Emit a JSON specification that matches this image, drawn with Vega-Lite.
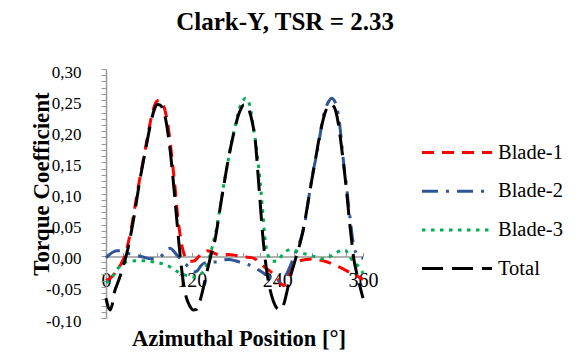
{
  "$schema": "https://vega.github.io/schema/vega-lite/v6.json",
  "width": 257,
  "height": 249,
  "autosize": {"type": "none"},
  "padding": {"left": 106, "top": 69, "right": 216, "bottom": 34},
  "background": "white",
  "config": {
    "view": {"stroke": null},
    "font": "Liberation Serif",
    "axis": {"labelFont": "Liberation Serif", "titleFont": "Liberation Serif"},
    "legend": {"labelFont": "Liberation Serif", "titleFont": "Liberation Serif"},
    "title": {"font": "Liberation Serif"}
  },
  "title": {"text": "Clark-Y, TSR = 2.33", "font": "Liberation Serif", "fontSize": 25, "fontWeight": "bold", "color": "#000000", "anchor": "middle", "frame": "group", "dx": 50.5, "baseline": "alphabetic", "offset": 8},
  "data": {"values": [
    {"a":0,"s":"Blade-1","v":-0.040},{"a":6,"s":"Blade-1","v":-0.036},{"a":12,"s":"Blade-1","v":-0.029},{"a":17,"s":"Blade-1","v":-0.021},{"a":22,"s":"Blade-1","v":-0.011},{"a":27,"s":"Blade-1","v":0.002},{"a":31,"s":"Blade-1","v":0.020},{"a":35,"s":"Blade-1","v":0.042},{"a":39,"s":"Blade-1","v":0.068},{"a":43,"s":"Blade-1","v":0.096},{"a":47,"s":"Blade-1","v":0.122},{"a":51,"s":"Blade-1","v":0.146},{"a":55,"s":"Blade-1","v":0.171},{"a":59,"s":"Blade-1","v":0.196},{"a":63,"s":"Blade-1","v":0.220},{"a":67,"s":"Blade-1","v":0.238},{"a":71,"s":"Blade-1","v":0.248},{"a":75,"s":"Blade-1","v":0.250},{"a":79,"s":"Blade-1","v":0.245},{"a":83,"s":"Blade-1","v":0.232},{"a":87,"s":"Blade-1","v":0.208},{"a":90,"s":"Blade-1","v":0.181},{"a":94,"s":"Blade-1","v":0.140},{"a":97,"s":"Blade-1","v":0.106},{"a":100,"s":"Blade-1","v":0.068},{"a":103,"s":"Blade-1","v":0.040},{"a":106,"s":"Blade-1","v":0.018},{"a":109,"s":"Blade-1","v":0.004},{"a":113,"s":"Blade-1","v":-0.005},{"a":118,"s":"Blade-1","v":-0.009},{"a":124,"s":"Blade-1","v":-0.008},{"a":130,"s":"Blade-1","v":-0.001},{"a":136,"s":"Blade-1","v":0.006},{"a":142,"s":"Blade-1","v":0.008},{"a":148,"s":"Blade-1","v":0.006},{"a":156,"s":"Blade-1","v":0.002},{"a":164,"s":"Blade-1","v":0.001},{"a":172,"s":"Blade-1","v":0.002},{"a":180,"s":"Blade-1","v":0.001},{"a":188,"s":"Blade-1","v":-0.001},{"a":196,"s":"Blade-1","v":-0.002},{"a":204,"s":"Blade-1","v":-0.003},{"a":210,"s":"Blade-1","v":-0.006},{"a":216,"s":"Blade-1","v":-0.012},{"a":222,"s":"Blade-1","v":-0.018},{"a":228,"s":"Blade-1","v":-0.023},{"a":234,"s":"Blade-1","v":-0.029},{"a":240,"s":"Blade-1","v":-0.037},{"a":245,"s":"Blade-1","v":-0.045},{"a":249,"s":"Blade-1","v":-0.048},{"a":253,"s":"Blade-1","v":-0.040},{"a":257,"s":"Blade-1","v":-0.027},{"a":262,"s":"Blade-1","v":-0.016},{"a":270,"s":"Blade-1","v":-0.009},{"a":280,"s":"Blade-1","v":-0.006},{"a":290,"s":"Blade-1","v":-0.005},{"a":300,"s":"Blade-1","v":-0.007},{"a":310,"s":"Blade-1","v":-0.010},{"a":320,"s":"Blade-1","v":-0.015},{"a":330,"s":"Blade-1","v":-0.020},{"a":340,"s":"Blade-1","v":-0.026},{"a":348,"s":"Blade-1","v":-0.030},{"a":354,"s":"Blade-1","v":-0.034},{"a":360,"s":"Blade-1","v":-0.038},
    {"a":0,"s":"Blade-2","v":-0.003},{"a":5,"s":"Blade-2","v":0.002},{"a":10,"s":"Blade-2","v":0.006},{"a":16,"s":"Blade-2","v":0.008},{"a":22,"s":"Blade-2","v":0.008},{"a":28,"s":"Blade-2","v":0.005},{"a":36,"s":"Blade-2","v":0.002},{"a":45,"s":"Blade-2","v":0.000},{"a":55,"s":"Blade-2","v":-0.003},{"a":63,"s":"Blade-2","v":-0.005},{"a":70,"s":"Blade-2","v":-0.005},{"a":76,"s":"Blade-2","v":-0.002},{"a":81,"s":"Blade-2","v":0.004},{"a":86,"s":"Blade-2","v":0.011},{"a":90,"s":"Blade-2","v":0.012},{"a":95,"s":"Blade-2","v":0.007},{"a":101,"s":"Blade-2","v":-0.001},{"a":107,"s":"Blade-2","v":-0.008},{"a":113,"s":"Blade-2","v":-0.015},{"a":118,"s":"Blade-2","v":-0.021},{"a":123,"s":"Blade-2","v":-0.026},{"a":128,"s":"Blade-2","v":-0.024},{"a":133,"s":"Blade-2","v":-0.016},{"a":139,"s":"Blade-2","v":-0.011},{"a":146,"s":"Blade-2","v":-0.010},{"a":155,"s":"Blade-2","v":-0.010},{"a":163,"s":"Blade-2","v":-0.007},{"a":172,"s":"Blade-2","v":-0.006},{"a":181,"s":"Blade-2","v":-0.008},{"a":190,"s":"Blade-2","v":-0.011},{"a":199,"s":"Blade-2","v":-0.014},{"a":207,"s":"Blade-2","v":-0.018},{"a":214,"s":"Blade-2","v":-0.023},{"a":221,"s":"Blade-2","v":-0.028},{"a":228,"s":"Blade-2","v":-0.033},{"a":235,"s":"Blade-2","v":-0.038},{"a":241,"s":"Blade-2","v":-0.041},{"a":246,"s":"Blade-2","v":-0.041},{"a":251,"s":"Blade-2","v":-0.034},{"a":256,"s":"Blade-2","v":-0.022},{"a":261,"s":"Blade-2","v":-0.008},{"a":266,"s":"Blade-2","v":0.006},{"a":270,"s":"Blade-2","v":0.018},{"a":274,"s":"Blade-2","v":0.031},{"a":278,"s":"Blade-2","v":0.050},{"a":282,"s":"Blade-2","v":0.078},{"a":286,"s":"Blade-2","v":0.108},{"a":290,"s":"Blade-2","v":0.135},{"a":295,"s":"Blade-2","v":0.162},{"a":300,"s":"Blade-2","v":0.195},{"a":304,"s":"Blade-2","v":0.222},{"a":308,"s":"Blade-2","v":0.238},{"a":312,"s":"Blade-2","v":0.248},{"a":316,"s":"Blade-2","v":0.253},{"a":320,"s":"Blade-2","v":0.249},{"a":324,"s":"Blade-2","v":0.236},{"a":327,"s":"Blade-2","v":0.214},{"a":330,"s":"Blade-2","v":0.182},{"a":333,"s":"Blade-2","v":0.148},{"a":337,"s":"Blade-2","v":0.111},{"a":340,"s":"Blade-2","v":0.078},{"a":342,"s":"Blade-2","v":0.060},{"a":345,"s":"Blade-2","v":0.030},{"a":348,"s":"Blade-2","v":0.012},{"a":352,"s":"Blade-2","v":0.001},{"a":356,"s":"Blade-2","v":-0.003},{"a":360,"s":"Blade-2","v":-0.004},
    {"a":0,"s":"Blade-3","v":-0.043},{"a":5,"s":"Blade-3","v":-0.040},{"a":10,"s":"Blade-3","v":-0.032},{"a":15,"s":"Blade-3","v":-0.023},{"a":20,"s":"Blade-3","v":-0.016},{"a":26,"s":"Blade-3","v":-0.011},{"a":33,"s":"Blade-3","v":-0.009},{"a":42,"s":"Blade-3","v":-0.008},{"a":52,"s":"Blade-3","v":-0.008},{"a":62,"s":"Blade-3","v":-0.009},{"a":72,"s":"Blade-3","v":-0.011},{"a":82,"s":"Blade-3","v":-0.014},{"a":90,"s":"Blade-3","v":-0.018},{"a":98,"s":"Blade-3","v":-0.024},{"a":106,"s":"Blade-3","v":-0.029},{"a":114,"s":"Blade-3","v":-0.032},{"a":122,"s":"Blade-3","v":-0.034},{"a":128,"s":"Blade-3","v":-0.033},{"a":134,"s":"Blade-3","v":-0.028},{"a":139,"s":"Blade-3","v":-0.020},{"a":143,"s":"Blade-3","v":-0.008},{"a":147,"s":"Blade-3","v":0.006},{"a":151,"s":"Blade-3","v":0.025},{"a":155,"s":"Blade-3","v":0.045},{"a":159,"s":"Blade-3","v":0.072},{"a":163,"s":"Blade-3","v":0.100},{"a":167,"s":"Blade-3","v":0.128},{"a":171,"s":"Blade-3","v":0.152},{"a":175,"s":"Blade-3","v":0.177},{"a":179,"s":"Blade-3","v":0.198},{"a":183,"s":"Blade-3","v":0.218},{"a":187,"s":"Blade-3","v":0.237},{"a":191,"s":"Blade-3","v":0.247},{"a":195,"s":"Blade-3","v":0.253},{"a":199,"s":"Blade-3","v":0.250},{"a":203,"s":"Blade-3","v":0.232},{"a":207,"s":"Blade-3","v":0.202},{"a":211,"s":"Blade-3","v":0.171},{"a":214,"s":"Blade-3","v":0.140},{"a":217,"s":"Blade-3","v":0.105},{"a":220,"s":"Blade-3","v":0.065},{"a":222,"s":"Blade-3","v":0.036},{"a":225,"s":"Blade-3","v":0.010},{"a":229,"s":"Blade-3","v":-0.004},{"a":234,"s":"Blade-3","v":-0.009},{"a":239,"s":"Blade-3","v":-0.009},{"a":244,"s":"Blade-3","v":-0.003},{"a":249,"s":"Blade-3","v":0.004},{"a":255,"s":"Blade-3","v":0.009},{"a":261,"s":"Blade-3","v":0.010},{"a":268,"s":"Blade-3","v":0.007},{"a":276,"s":"Blade-3","v":0.004},{"a":285,"s":"Blade-3","v":0.001},{"a":294,"s":"Blade-3","v":-0.002},{"a":302,"s":"Blade-3","v":-0.005},{"a":309,"s":"Blade-3","v":-0.004},{"a":316,"s":"Blade-3","v":0.000},{"a":323,"s":"Blade-3","v":0.005},{"a":330,"s":"Blade-3","v":0.009},{"a":335,"s":"Blade-3","v":0.009},{"a":340,"s":"Blade-3","v":0.002},{"a":346,"s":"Blade-3","v":-0.009},{"a":352,"s":"Blade-3","v":-0.015},{"a":356,"s":"Blade-3","v":-0.020},{"a":360,"s":"Blade-3","v":-0.028},
    {"a":0,"s":"Total","v":-0.068},{"a":3,"s":"Total","v":-0.082},{"a":6,"s":"Total","v":-0.087},{"a":9,"s":"Total","v":-0.077},{"a":12,"s":"Total","v":-0.058},{"a":16,"s":"Total","v":-0.045},{"a":20,"s":"Total","v":-0.032},{"a":24,"s":"Total","v":-0.017},{"a":28,"s":"Total","v":-0.001},{"a":32,"s":"Total","v":0.018},{"a":36,"s":"Total","v":0.042},{"a":40,"s":"Total","v":0.068},{"a":44,"s":"Total","v":0.097},{"a":48,"s":"Total","v":0.125},{"a":52,"s":"Total","v":0.150},{"a":56,"s":"Total","v":0.174},{"a":60,"s":"Total","v":0.198},{"a":64,"s":"Total","v":0.220},{"a":68,"s":"Total","v":0.236},{"a":72,"s":"Total","v":0.243},{"a":76,"s":"Total","v":0.242},{"a":80,"s":"Total","v":0.234},{"a":84,"s":"Total","v":0.217},{"a":87,"s":"Total","v":0.195},{"a":90,"s":"Total","v":0.168},{"a":93,"s":"Total","v":0.135},{"a":96,"s":"Total","v":0.098},{"a":99,"s":"Total","v":0.060},{"a":102,"s":"Total","v":0.022},{"a":105,"s":"Total","v":-0.012},{"a":108,"s":"Total","v":-0.040},{"a":112,"s":"Total","v":-0.065},{"a":117,"s":"Total","v":-0.080},{"a":122,"s":"Total","v":-0.087},{"a":127,"s":"Total","v":-0.086},{"a":131,"s":"Total","v":-0.075},{"a":135,"s":"Total","v":-0.058},{"a":139,"s":"Total","v":-0.038},{"a":143,"s":"Total","v":-0.018},{"a":148,"s":"Total","v":0.005},{"a":153,"s":"Total","v":0.027},{"a":157,"s":"Total","v":0.055},{"a":161,"s":"Total","v":0.085},{"a":165,"s":"Total","v":0.113},{"a":169,"s":"Total","v":0.140},{"a":173,"s":"Total","v":0.165},{"a":177,"s":"Total","v":0.187},{"a":181,"s":"Total","v":0.207},{"a":185,"s":"Total","v":0.224},{"a":189,"s":"Total","v":0.236},{"a":193,"s":"Total","v":0.242},{"a":197,"s":"Total","v":0.242},{"a":201,"s":"Total","v":0.232},{"a":205,"s":"Total","v":0.214},{"a":209,"s":"Total","v":0.186},{"a":213,"s":"Total","v":0.130},{"a":216,"s":"Total","v":0.085},{"a":219,"s":"Total","v":0.040},{"a":223,"s":"Total","v":-0.006},{"a":227,"s":"Total","v":-0.038},{"a":232,"s":"Total","v":-0.064},{"a":237,"s":"Total","v":-0.080},{"a":242,"s":"Total","v":-0.086},{"a":246,"s":"Total","v":-0.086},{"a":250,"s":"Total","v":-0.074},{"a":254,"s":"Total","v":-0.055},{"a":258,"s":"Total","v":-0.035},{"a":263,"s":"Total","v":-0.015},{"a":268,"s":"Total","v":0.005},{"a":273,"s":"Total","v":0.025},{"a":278,"s":"Total","v":0.052},{"a":283,"s":"Total","v":0.086},{"a":288,"s":"Total","v":0.120},{"a":293,"s":"Total","v":0.152},{"a":298,"s":"Total","v":0.185},{"a":303,"s":"Total","v":0.213},{"a":307,"s":"Total","v":0.230},{"a":311,"s":"Total","v":0.240},{"a":315,"s":"Total","v":0.243},{"a":319,"s":"Total","v":0.240},{"a":323,"s":"Total","v":0.227},{"a":326,"s":"Total","v":0.208},{"a":329,"s":"Total","v":0.183},{"a":332,"s":"Total","v":0.155},{"a":335,"s":"Total","v":0.125},{"a":338,"s":"Total","v":0.092},{"a":341,"s":"Total","v":0.056},{"a":344,"s":"Total","v":0.025},{"a":347,"s":"Total","v":-0.004},{"a":351,"s":"Total","v":-0.027},{"a":355,"s":"Total","v":-0.046},{"a":360,"s":"Total","v":-0.068}
  ]},
  "mark": {"type": "line", "strokeWidth": 3, "strokeCap": "butt", "interpolate": "monotone", "clip": false},
  "encoding": {
    "x": {
      "field": "a", "type": "quantitative",
      "scale": {"domain": [0, 360], "nice": false, "zero": false},
      "axis": {
        "title": "Azimuthal Position [°]",
        "values": [0,24,48,72,96,120,144,168,192,216,240,264,288,312,336,360],
        "labelExpr": "datum.value % 120 == 0 ? datum.label : ''",
        "labelOverlap": false,
        "labelFlush": false,
        "offset": -61.5,
        "grid": false,
        "domainColor": "#999999", "domainWidth": 1.5,
        "tickColor": "#999999", "tickWidth": 1, "tickSize": -4,
        "labelPadding": 18,
        "labelFont": "Liberation Serif", "labelFontSize": 20, "labelColor": "#000000",
        "titleFont": "Liberation Serif", "titleFontSize": 22.5, "titleFontWeight": "bold", "titleColor": "#000000",
        "titleX": 132.5, "titleY": 88.5, "titleBaseline": "alphabetic", "titleAlign": "center"
      }
    },
    "y": {
      "field": "v", "type": "quantitative",
      "scale": {"domain": [-0.1, 0.3], "nice": false, "zero": false},
      "axis": {
        "title": "Torque Coefficient",
        "values": [-0.1,-0.09,-0.08,-0.07,-0.06,-0.05,-0.04,-0.03,-0.02,-0.01,0,0.01,0.02,0.03,0.04,0.05,0.06,0.07,0.08,0.09,0.1,0.11,0.12,0.13,0.14,0.15,0.16,0.17,0.18,0.19,0.2,0.21,0.22,0.23,0.24,0.25,0.26,0.27,0.28,0.29,0.3],
        "labelExpr": "round(datum.value*100) % 5 == 0 ? (datum.value < -0.001 ? '-' : '') + replace(format(abs(datum.value), '.2f'), '.', ',') : ''",
        "labelOverlap": false,
        "labelFlush": false,
        "grid": false,
        "domainColor": "#999999", "domainWidth": 1.5,
        "tickColor": "#999999", "tickWidth": 1, "tickSize": 5,
        "labelPadding": 20, "labelOffset": 3,
        "labelFont": "Liberation Serif", "labelFontSize": 17, "labelColor": "#000000",
        "titleFont": "Liberation Serif", "titleFontSize": 23, "titleFontWeight": "bold", "titleColor": "#000000",
        "titleAngle": -90, "titleX": -58, "titleY": 114.5, "titleBaseline": "alphabetic", "titleAlign": "center"
      }
    },
    "color": {
      "field": "s", "type": "nominal",
      "scale": {"domain": ["Blade-1", "Blade-2", "Blade-3", "Total"], "range": ["#FF0000", "#2F5597", "#00B050", "#000000"]},
      "legend": {"title": null, "orient": "none", "legendX": 314.5, "legendY": 73, "symbolType": "stroke", "symbolSize": 4900, "symbolStrokeWidth": 3, "labelFont": "Liberation Serif", "labelFontSize": 20.5, "labelColor": "#000000", "labelOffset": 4.5, "clipHeight": 21, "rowPadding": 17.7, "padding": 0}
    },
    "strokeDash": {
      "field": "s", "type": "nominal",
      "scale": {"domain": ["Blade-1", "Blade-2", "Blade-3", "Total"], "range": [[12, 8], [16, 8, 3, 8], [3.5, 5.5], [21, 9]]},
      "legend": {"title": null, "orient": "none", "legendX": 314.5, "legendY": 73, "symbolType": "stroke", "symbolSize": 4900, "symbolStrokeWidth": 3, "labelFont": "Liberation Serif", "labelFontSize": 20.5, "labelColor": "#000000", "labelOffset": 4.5, "clipHeight": 21, "rowPadding": 17.7, "padding": 0}
    }
  }
}
